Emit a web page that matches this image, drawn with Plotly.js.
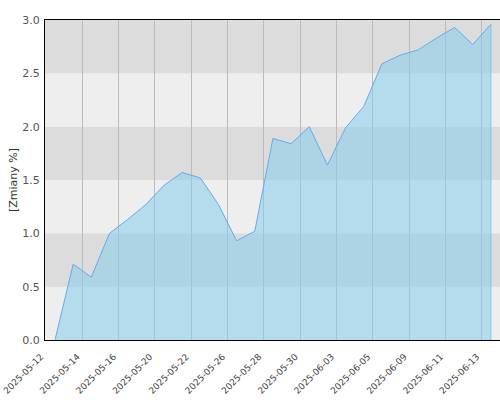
<!DOCTYPE html>
<html>
<head>
<meta charset="utf-8">
<script src="https://cdn.plot.ly/plotly-3.0.1.min.js"></script>
<style>html,body{margin:0;padding:0;background:#fff;}#chart{width:500px;height:400px;}</style>
</head>
<body>
<div id="chart"></div>
<script>
const dates = [
  "2025-05-12","2025-05-13","2025-05-14","2025-05-15","2025-05-16",
  "2025-05-19","2025-05-20","2025-05-21","2025-05-22","2025-05-23",
  "2025-05-26","2025-05-27","2025-05-28","2025-05-29","2025-05-30",
  "2025-06-02","2025-06-03","2025-06-04","2025-06-05","2025-06-06",
  "2025-06-09","2025-06-10","2025-06-11","2025-06-12","2025-06-13"
];
const changes = [
  0.00, 0.71, 0.59, 1.00, 1.13,
  1.27, 1.45, 1.57, 1.52, 1.27,
  0.93, 1.02, 1.89, 1.84, 2.00,
  1.64, 1.99, 2.19, 2.59, 2.67,
  2.72, 2.83, 2.93, 2.77, 2.96
];
const yTicks = [0, 0.5, 1.0, 1.5, 2.0, 2.5, 3.0];
const yTitle = "[Zmiany %]";

const shapes = [];
for (let i = 0; i < yTicks.length - 1; i++) {
  shapes.push({
    type: "rect", xref: "paper", yref: "y", layer: "below",
    x0: 0, x1: 1, y0: yTicks[i], y1: yTicks[i + 1],
    fillcolor: i % 2 === 0 ? "#eeeeee" : "#dcdcdc", line: {width: 0}
  });
}
// closing edge of the filled area at the last data point
const lastIdx = changes.length - 1;
shapes.push({
  type: "line", xref: "x", yref: "y", layer: "above",
  x0: dates[lastIdx], x1: dates[lastIdx], y0: 0, y1: changes[lastIdx],
  line: {color: "rgba(110,190,240,0.8)", width: 1}
});

const trace = {
  type: "scatter", mode: "lines",
  x: dates, y: changes,
  fill: "tozeroy",
  fillcolor: "rgba(135,206,235,0.55)",
  line: {color: "#64aaf0", width: 1},
  hoverinfo: "skip"
};

const layout = {
  width: 500, height: 400,
  margin: {l: 45, r: 0, t: 20, b: 60},
  paper_bgcolor: "#ffffff",
  plot_bgcolor: "#eeeeee",
  showlegend: false,
  font: {family: "DejaVu Sans", size: 10, color: "#444"},
  shapes: shapes,
  xaxis: {
    type: "category",
    range: [-0.55, 24.5],
    tickmode: "linear", tick0: 0, dtick: 2,
    tickson: "boundaries",
    tickangle: -45,
    ticks: "",
    ticklabelshift: -14,
    ticklabelstandoff: 7,
    showgrid: true, gridcolor: "#bbbbbb", gridwidth: 1,
    showline: true, linecolor: "#000", linewidth: 1, mirror: true,
    zeroline: false,
    tickfont: {family: "DejaVu Sans", size: 9, color: "#444"}
  },
  yaxis: {
    range: [0, 3],
    tickvals: yTicks,
    tickformat: ".1f",
    showgrid: false,
    zeroline: false,
    showline: true, linecolor: "#000", linewidth: 1,
    ticks: "", ticklabelstandoff: 2,
    tickfont: {family: "DejaVu Sans", size: 11, color: "#555"},
    title: {text: yTitle, standoff: 2, font: {family: "DejaVu Sans", size: 11, color: "#333"}}
  }
};

Plotly.newPlot("chart", [trace], layout, {displayModeBar: false, staticPlot: true});
</script>
</body>
</html>
